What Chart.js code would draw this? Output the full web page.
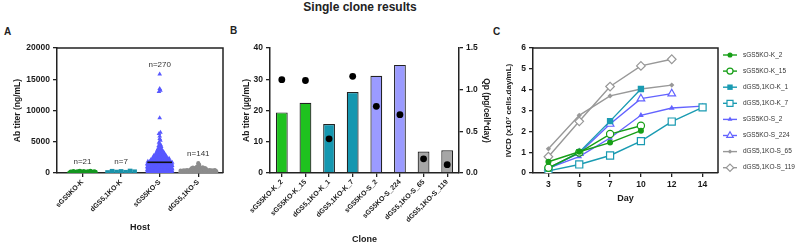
<!DOCTYPE html>
<html lang="en">
<head>
<meta charset="utf-8">
<title>Single clone results</title>
<script src="https://cdn.jsdelivr.net/npm/chart.js"></script>
<style>
  body { margin: 0; width: 799px; height: 245px; position: relative; background: #fff; overflow: hidden;
         font-family: "Liberation Sans", Arial, sans-serif; color: #222; }
  canvas { position: absolute; top: 0; }
  .lbl { position: absolute; font-weight: bold; line-height: 1; }
</style>
</head>
<body>
  <div class="lbl" style="left:0;width:720px;top:1px;font-size:12px;text-align:center;">Single clone results</div>
  <div class="lbl" style="left:4px;top:27px;font-size:10px;">A</div>
  <div class="lbl" style="left:230px;top:26px;font-size:10px;">B</div>
  <div class="lbl" style="left:493px;top:27px;font-size:10px;">C</div>
  <canvas id="chartA" width="232" height="245" style="left:0"></canvas>
  <canvas id="chartB" width="268" height="245" style="left:232px"></canvas>
  <canvas id="chartC" width="299" height="245" style="left:500px"></canvas>
<script>
// ---- panel A: Ab titer per host (ng/mL) ----
var hostLabels = ['sGS5KO-K', 'dGS5,1KO-K', 'sGS5KO-S', 'dGS5,1KO-S'];
var titerS5K = [45, 60, 75, 90, 105, 110, 120, 135, 150, 160, 170, 175, 190, 200, 215, 230, 245, 260, 280, 300, 320];
var titerD51K = [150, 320, 250, 80, 200, 120, 280];
var titerS5S = [
  12, 25, 38, 45, 60, 72, 80, 95, 105, 118, 125, 140, 150, 162, 170, 185, 190, 205, 212, 220,
  235, 240, 250, 258, 265, 272, 280, 290, 295, 305, 310, 318, 325, 332, 340, 348, 355, 362, 370, 375,
  382, 390, 398, 405, 410, 418, 425, 430, 438, 445, 450, 458, 462, 470, 475, 482, 488, 494, 499,
  505, 512, 520, 534, 541, 550, 562, 570, 585, 592, 600, 611, 618, 630, 642, 650, 663, 671, 680, 694,
  702, 710, 722, 730, 745, 752, 760, 774, 781, 790, 805, 812, 820, 833, 841, 850, 862, 875, 880, 893,
  900, 912, 920, 931, 940, 952, 960, 970, 978, 985, 915, 945, 965, 988, 997,
  1010, 1025, 1040, 1052, 1068, 1080, 1095, 1110, 1122, 1135, 1148, 1160, 1172, 1185, 1198,
  1210, 1222, 1235, 1248, 1260, 1272, 1285, 1298, 1310, 1322, 1335, 1348, 1360, 1372, 1385,
  1398, 1410, 1420, 1432, 1445, 1455, 1462, 1470, 1478, 1485, 1490, 1494, 1030, 1150, 1270,
  1505, 1520, 1535, 1550, 1565, 1580, 1595, 1610, 1625, 1640, 1655, 1670, 1685, 1700, 1715, 1730, 1745, 1760,
  1775, 1790, 1805, 1820, 1835, 1850, 1865, 1880, 1895, 1910, 1925, 1940, 1955, 1970, 1985, 1560, 1720,
  2010, 2030, 2055, 2080, 2100, 2125, 2150, 2170, 2195, 2220, 2240, 2265, 2290, 2310, 2335, 2360, 2380,
  2405, 2430, 2450, 2470, 2490, 2060, 2200, 2350,
  2510, 2540, 2570, 2600, 2630, 2660, 2690, 2720, 2750, 2780, 2810, 2840, 2870, 2900, 2930, 2960, 2990,
  3020, 3070, 3110, 3160, 3200, 3250, 3300, 3340, 3390, 3430, 3480,
  3540, 3610, 3680, 3750, 3820, 3890, 3960,
  4080, 4200, 4330, 4450,
  4700, 4900, 5200, 5500, 5900, 6300, 6500, 8800, 13000, 13200, 13500, 15800
];
var titerD51S = [
  8, 15, 22, 30, 35, 42, 50, 55, 61, 68, 74, 80, 85, 92, 98, 104, 110, 115, 120, 126,
  131, 137, 142, 148, 153, 158, 163, 168, 172, 176, 180, 184, 187, 190, 193, 196, 198, 12, 47, 88,
  118, 145, 166, 182, 199,
  202, 206, 210, 215, 220, 224, 228, 233, 238, 242, 247, 251, 256, 260, 265, 270, 274, 279, 283, 288,
  292, 297, 301, 306, 310, 315, 320, 324, 329, 334, 338, 343, 347, 352, 357, 361, 366, 371, 376, 381,
  386, 390, 395, 399, 245,
  405, 412, 418, 425, 432, 438, 445, 452, 458, 465, 472, 478, 485, 492, 498, 505, 512, 518, 525, 532,
  538, 545, 552, 558, 565, 572, 578, 585, 592, 598,
  610, 625, 640, 658, 672, 690, 705, 722, 740, 755, 772, 790,
  820, 860, 900, 940, 980, 1050, 1150, 1300, 1580
];

// ---- panel B: per clone ----
var cloneLabels = ['sGS5KO-K_2', 'sGS5KO-K_15', 'dGS5,1KO-K_1', 'dGS5,1KO-K_7',
                   'sGS5KO-S_2', 'sGS5KO-S_224', 'dGS5,1KO-S_65', 'dGS5,1KO-S_119'];
var cloneTiter = [19.4, 22.5, 15.7, 25.9, 31.1, 34.6, 6.9, 7.3];   // ug/mL
var cloneQp = [1.12, 1.11, 0.41, 1.16, 0.80, 0.70, 0.17, 0.10];    // pg/cell*day

// ---- panel C: IVCD over days ----
var days = ['3', '5', '7', '10', '12', '14'];
var ivcdK5_2 = [0.54, 1.02, 1.46, 2.03];
var ivcdK5_15 = [0.25, 0.98, 1.87, 2.27];
var ivcdK51_1 = [0.20, 1.00, 2.49, 4.03];
var ivcdK51_7 = [0.10, 0.41, 0.84, 1.53, 2.47, 3.15];
var ivcdS5_2 = [0.23, 0.79, 1.68, 2.77, 3.12, 3.21];
var ivcdS5_224 = [0.25, 0.95, 2.35, 3.57, 3.81];
var ivcdS51_65 = [1.16, 2.77, 3.70, 4.03, 4.22];
var ivcdS51_119 = [0.78, 2.48, 4.15, 5.14, 5.46];

Chart.defaults.font.family = '"Liberation Sans", Arial, sans-serif';
Chart.defaults.color = '#1a1a1a';

var FONT_TICK = { size: 8.5, weight: 'bold' };
var FONT_TITLE = { size: 8.5, weight: 'bold' };
var FONT_ROT = { size: 7, weight: 'bold' };
var axisGrid = { drawOnChartArea: false, drawTicks: true, tickLength: 4, color: '#222', lineWidth: 1.3 };
var axisBorder = { color: '#222', width: 1.5 };

const boxPlugin = {
  id: 'box',
  afterDraw(chart) {
    const ctx = chart.ctx, a = chart.chartArea;
    ctx.save();
    ctx.strokeStyle = '#222';
    ctx.lineWidth = 1.5;
    ctx.beginPath();
    ctx.moveTo(a.left, a.top);
    ctx.lineTo(a.right, a.top);
    ctx.lineTo(a.right, a.bottom);
    ctx.stroke();
    ctx.restore();
  }
};

// deterministic swarm layout: rows of ~3px, points spread evenly across a width that grows with the count
var AX_MIN = -0.66, AX_MAX = 3.64, A_PLOT_W = 166;
function swarm(values, center, perPx, maxPx) {
  const unit = (AX_MAX - AX_MIN) / A_PLOT_W;
  const bins = new Map();
  values.slice().sort((a, b) => a - b).forEach(v => {
    const b = Math.floor(v / 480);
    if (!bins.has(b)) bins.set(b, []);
    bins.get(b).push(v);
  });
  const pts = [];
  bins.forEach(list => {
    const k = list.length;
    const w = Math.min(maxPx, k * perPx) * unit;
    const order = list.map((v, i) => ({ i, f: (i * 0.618034) % 1 })).sort((p, q) => p.f - q.f);
    const slot = [];
    order.forEach((o, r) => { slot[o.i] = r; });
    list.forEach((v, i) => {
      const f = k === 1 ? 0.5 : slot[i] / (k - 1);
      pts.push({ x: center + (f - 0.5) * w, y: v });
    });
  });
  return pts;
}

var hostGroups = [titerS5K, titerD51K, titerS5S, titerD51S];
var meanS5S = titerS5S.reduce((s, v) => s + v, 0) / titerS5S.length;

const nLabelPlugin = {
  id: 'nLabels',
  afterDatasetsDraw(chart) {
    const ctx = chart.ctx, xs = chart.scales.x, ys = chart.scales.y;
    ctx.save();
    ctx.font = '8px "Liberation Sans", Arial, sans-serif';
    ctx.fillStyle = '#333';
    ctx.textAlign = 'center';
    ctx.textBaseline = 'middle';
    hostGroups.forEach((g, i) => {
      const top = ys.getPixelForValue(Math.max.apply(null, g));
      ctx.fillText('n=' + g.length, xs.getPixelForValue(i), top - 9.5);
    });
    ctx.restore();
  }
};

new Chart(document.getElementById('chartA'), {
  type: 'scatter',
  data: {
    datasets: [
      { data: [{ x: 2 - 0.32, y: meanS5S }, { x: 2 + 0.32, y: meanS5S }], type: 'line',
        borderColor: '#111', borderWidth: 1.6, pointRadius: 0, order: 0 },
      { data: swarm(titerS5K, 0, 1.25, 26), pointStyle: 'circle', pointRadius: 2.3,
        backgroundColor: '#13961f', borderColor: '#13961f', borderWidth: 0, order: 1 },
      { data: swarm(titerD51K, 1, 4, 27), pointStyle: 'rect', pointRadius: 3.3,
        backgroundColor: '#1a93aa', borderColor: '#1a93aa', borderWidth: 0, order: 1 },
      { data: swarm(titerS5S, 2, 0.75, 25), pointStyle: 'triangle', pointRadius: 2.7,
        backgroundColor: '#5858ff', borderColor: '#5858ff', borderWidth: 0, order: 1 },
      { data: swarm(titerD51S, 3, 0.45, 36), pointStyle: 'circle', pointRadius: 2.1,
        backgroundColor: '#8c8c8c', borderColor: '#8c8c8c', borderWidth: 0, order: 1 }
    ]
  },
  options: {
    responsive: false, animation: false, devicePixelRatio: 1,
    layout: { padding: { left: 9, right: 9, top: 48, bottom: 8 } },
    plugins: { legend: { display: false }, tooltip: { enabled: false } },
    scales: {
      x: {
        type: 'linear', min: AX_MIN, max: AX_MAX,
        afterBuildTicks: s => { s.ticks = hostLabels.map((_, i) => ({ value: i })); },
        afterFit: s => { s.height = 64; },
        ticks: { callback: v => hostLabels[v], minRotation: 45, maxRotation: 45, autoSkip: false,
                 font: FONT_ROT, padding: 1 },
        grid: axisGrid, border: axisBorder,
        title: { display: true, text: 'Host', font: { size: 9, weight: 'bold' } }
      },
      y: {
        min: 0, max: 20000,
        afterFit: s => { s.width = 48; },
        ticks: { stepSize: 5000, callback: v => String(v), font: FONT_TICK },
        grid: axisGrid, border: axisBorder,
        title: { display: true, text: 'Ab titer (ng/mL)', font: FONT_TITLE }
      }
    }
  },
  plugins: [boxPlugin, nLabelPlugin]
});

// ---- panel B ----
var cloneColors = ['#1fc21f', '#1fc21f', '#1597b0', '#1597b0', '#9b9bff', '#9b9bff', '#a6a6a6', '#a6a6a6'];
new Chart(document.getElementById('chartB'), {
  type: 'bar',
  data: {
    labels: cloneLabels,
    datasets: [
      { type: 'line', data: cloneQp, yAxisID: 'y1', showLine: false, pointRadius: 3.4,
        backgroundColor: '#000', borderColor: '#000', borderWidth: 0, order: 0 },
      { data: cloneTiter, yAxisID: 'y', backgroundColor: cloneColors, borderColor: '#222',
        borderWidth: 1.2, barPercentage: 0.5, categoryPercentage: 1.0, order: 1 }
    ]
  },
  options: {
    responsive: false, animation: false, devicePixelRatio: 1,
    layout: { padding: { left: 6, right: 5, top: 48, bottom: 0 } },
    plugins: { legend: { display: false }, tooltip: { enabled: false } },
    scales: {
      x: {
        afterFit: s => { s.height = 72; },
        ticks: { minRotation: 45, maxRotation: 45, autoSkip: false, font: FONT_ROT, padding: 1 },
        grid: Object.assign({}, axisGrid, { offset: false }), border: axisBorder,
        title: { display: true, text: 'Clone', font: { size: 9, weight: 'bold' }, padding: { top: 2, bottom: 0 } }
      },
      y: {
        position: 'left', min: 0, max: 40,
        afterFit: s => { s.width = 32; },
        ticks: { stepSize: 10, font: FONT_TICK },
        grid: axisGrid, border: axisBorder,
        title: { display: true, text: 'Ab titer (\u00b5g/mL)', font: FONT_TITLE }
      },
      y1: {
        position: 'right', min: 0, max: 1.5,
        afterFit: s => { s.width = 36; },
        ticks: { stepSize: 0.5, callback: v => v.toFixed(1), font: FONT_TICK },
        grid: axisGrid, border: axisBorder,
        title: { display: true, text: 'Qp (pg/cell*day)', font: FONT_TITLE }
      }
    }
  }
});

// ---- panel C ----
var GREEN = '#179f17', TEAL = '#1a9bb2', BLUE = '#6363ff', GRAY = '#989898';
function series(label, data, color, style, radius, open) {
  return {
    label: label, data: data, borderColor: color, borderWidth: 1.4,
    pointStyle: style, pointRadius: radius, pointBorderWidth: open ? 1.2 : 0,
    pointBackgroundColor: open ? '#fff' : color, pointBorderColor: color, tension: 0
  };
}
var ivcdSets = [
  series('sGS5KO-K_2', ivcdK5_2, GREEN, 'circle', 3, false),
  series('sGS5KO-K_15', ivcdK5_15, GREEN, 'circle', 3.6, true),
  series('dGS5,1KO-K_1', ivcdK51_1, TEAL, 'rect', 4.5, false),
  series('dGS5,1KO-K_7', ivcdK51_7, TEAL, 'rect', 5, true),
  series('sGS5KO-S_2', ivcdS5_2, BLUE, 'triangle', 3.3, false),
  series('sGS5KO-S_224', ivcdS5_224, BLUE, 'triangle', 4.4, true),
  series('dGS5,1KO-S_65', ivcdS51_65, GRAY, 'rectRot', 2.6, false),
  series('dGS5,1KO-S_119', ivcdS51_119, GRAY, 'rectRot', 4.3, true)
];

const lineLegend = {
  id: 'lineLegend',
  afterDraw(chart) {
    const ctx = chart.ctx;
    ctx.save();
    ctx.font = '6.5px "Liberation Sans", Arial, sans-serif';
    ctx.textBaseline = 'middle';
    chart.data.datasets.forEach((ds, i) => {
      const y = 55 + i * 16.1;
      ctx.strokeStyle = ds.borderColor;
      ctx.lineWidth = 1.4;
      ctx.beginPath(); ctx.moveTo(223, y); ctx.lineTo(237, y); ctx.stroke();
      ctx.fillStyle = ds.pointBackgroundColor;
      ctx.strokeStyle = ds.pointBorderColor;
      ctx.lineWidth = ds.pointBorderWidth || 0.01;
      Chart.helpers.drawPoint(ctx, { pointStyle: ds.pointStyle, radius: ds.pointRadius * 0.85,
                                     borderWidth: ds.pointBorderWidth, rotation: 0 }, 230, y);
      ctx.fillStyle = '#333';
      ctx.fillText(ds.label, 243, y);
    });
    ctx.restore();
  }
};

new Chart(document.getElementById('chartC'), {
  type: 'line',
  data: { labels: days, datasets: ivcdSets },
  options: {
    responsive: false, animation: false, devicePixelRatio: 1,
    layout: { padding: { left: 0, right: 81, top: 48, bottom: 37 } },
    plugins: { legend: { display: false }, tooltip: { enabled: false } },
    scales: {
      x: {
        offset: true,
        afterFit: s => { s.height = 35; },
        ticks: { font: FONT_TICK, padding: 3 },
        grid: Object.assign({}, axisGrid, { offset: false }), border: axisBorder,
        title: { display: true, text: 'Day', font: { size: 9, weight: 'bold' } }
      },
      y: {
        min: 0, max: 6,
        afterFit: s => { s.width = 33; },
        ticks: { stepSize: 1, font: FONT_TICK },
        grid: axisGrid, border: axisBorder,
        title: { display: true, text: 'IVCD (x10\u2077 cells.day/mL)', font: { size: 8, weight: 'bold' } }
      }
    }
  },
  plugins: [boxPlugin, lineLegend]
});
</script>
</body>
</html>
